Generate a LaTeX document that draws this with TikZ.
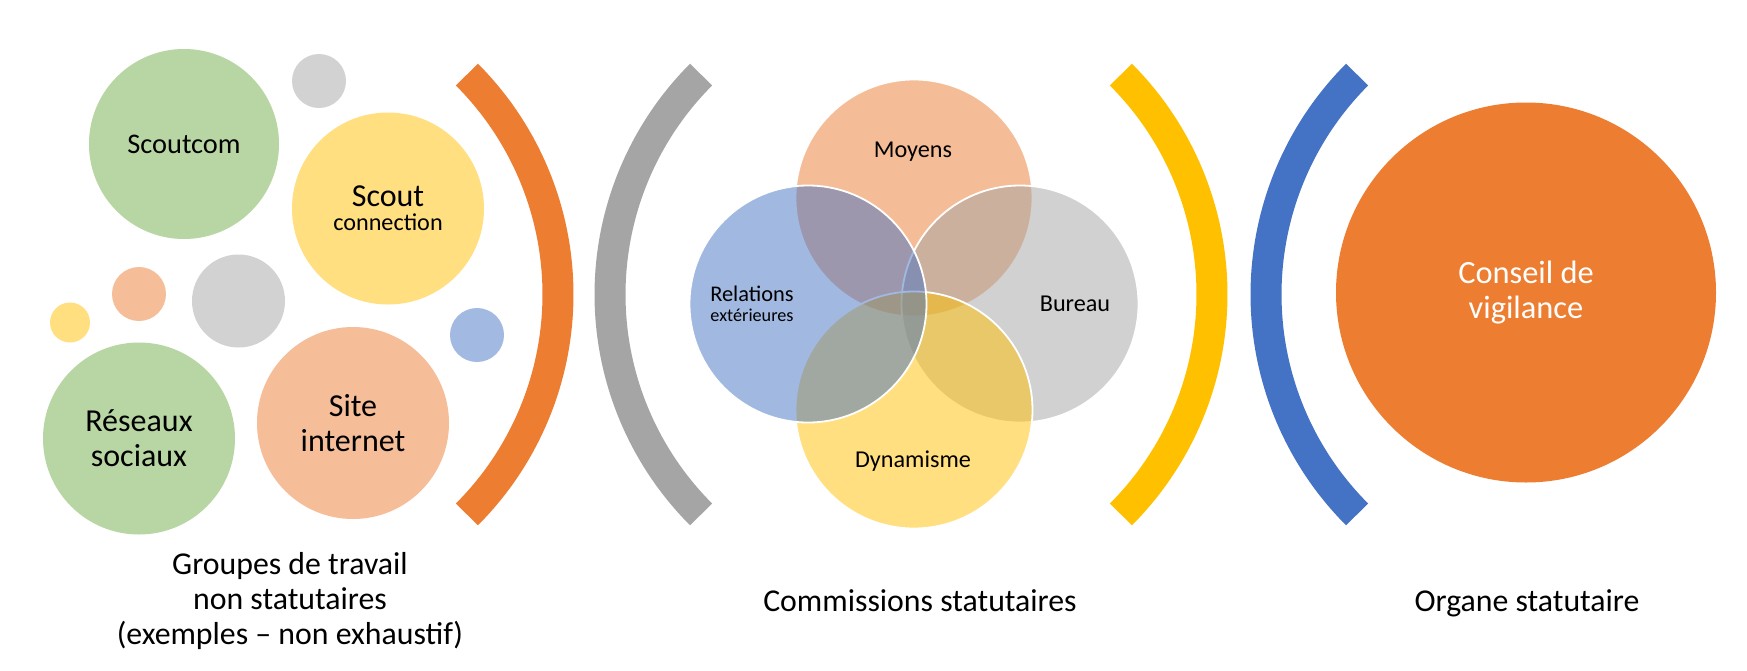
\documentclass[tikz,border=0pt]{standalone}
\usepackage{fontspec}
\setmainfont{Carlito}
\definecolor{orangeC}{HTML}{ED7D31}
\definecolor{greyC}{HTML}{A5A5A5}
\definecolor{yellowC}{HTML}{FFC000}
\definecolor{blueC}{HTML}{4472C4}
\definecolor{lorange}{HTML}{F6BE98}
\definecolor{lgrey}{HTML}{D2D2D2}
\definecolor{lyellow}{HTML}{FFDF80}
\definecolor{lblue}{HTML}{A2B9E1}
\definecolor{lgreen}{HTML}{B8D6A3}
\begin{document}
\begin{tikzpicture}[x=0.5pt,y=-0.5pt,
  bubble/.style={circle,inner sep=0pt,outer sep=0pt,draw=none,align=center,text=black},
  bigtext/.style={font=\fontsize{16}{17.5}\selectfont},
  bandarc/.style={line width=15.5pt},
  venn/.style={circle,inner sep=0pt,outer sep=0pt,minimum size=118.5pt,fill opacity=0.5,draw=white,line width=0.9pt},
  vlabel/.style={anchor=base,inner sep=0pt,text=black,font=\fontsize{12.1}{14}\selectfont},
  caption/.style={inner sep=0pt,align=center,text=black,font=\fontsize{15.9}{17.5}\selectfont},
]
\fill[white] (0,0) rectangle (1747,670);
\path[use as bounding box] (0,0) rectangle (1747,670);

% ---------- left group: working groups ----------
\node[bubble,fill=lgreen,minimum size=95pt,font=\fontsize{14.2}{16}\selectfont] (scoutcom) at (184,144) {Scoutcom};
\node[bubble,fill=lgrey,minimum size=27pt] (dotgreyA) at (319,81) {};
\node[bubble,fill=lyellow,minimum size=96pt] (scoutconn) at (388,208.5)
  {\fontsize{16}{14.2}\selectfont Scout\\\fontsize{12.1}{14.2}\selectfont connection};
\node[bubble,fill=lorange,minimum size=27pt] (dotorange) at (139,294) {};
\node[bubble,fill=lgrey,minimum size=46.5pt] (dotgreyB) at (238.5,301) {};
\node[bubble,fill=lyellow,minimum size=20pt] (dotyellow) at (70,322.5) {};
\node[bubble,fill=lblue,minimum size=27pt] (dotblue) at (477,335) {};
\node[bubble,fill=lgreen,minimum size=96pt,bigtext] (reseaux) at (139,438.5) {Réseaux\\sociaux};
\node[bubble,fill=lorange,minimum size=96pt,bigtext] (site) at (353,423) {Site\\internet};

\draw[bandarc,orangeC] plot[domain=-45:45,samples=90] ({247+311*cos(\x)},{294.5+311*sin(\x)});

\node[caption] (capA) at (290,601) {Groupes de travail\\non statutaires\\(exemples – non exhaustif)};

% ---------- middle group: statutory commissions ----------
\draw[bandarc,greyC] plot[domain=135:225,samples=90] ({921+311*cos(\x)},{294.5+311*sin(\x)});

\node[venn,fill=orangeC] (moyens) at (914,198) {};
\node[venn,fill=greyC] (bureau) at (1020,304) {};
\node[venn,fill=yellowC] (dynamisme) at (914,410) {};
\node[venn,fill=blueC] (relations) at (808,304) {};

\node[vlabel] (lmoyens) at (913,157) {Moyens};
\node[vlabel] (lbureau) at (1075,311.5) {Bureau};
\node[vlabel] (ldyn) at (913,467.5) {Dynamisme};
\node[vlabel,font=\fontsize{11.2}{13}\selectfont] (lrel) at (752,301) {Relations};
\node[vlabel,font=\fontsize{9.1}{10}\selectfont] (lext) at (752,321.5) {extérieures};

\draw[bandarc,yellowC] plot[domain=-45:45,samples=90] ({901+311*cos(\x)},{294.5+311*sin(\x)});

\node[caption,anchor=base] (capB) at (920,611.5) {Commissions statutaires};

% ---------- right group: statutory body ----------
\draw[bandarc,blueC] plot[domain=135:225,samples=90] ({1577+311*cos(\x)},{294.5+311*sin(\x)});

\node[bubble,fill=orangeC,minimum size=190pt,text=white,font=\fontsize{16.2}{17.2}\selectfont] (conseil) at (1526,292.5) {Conseil de\\vigilance};

\node[caption,anchor=base] (capC) at (1527,611.5) {Organe statutaire};
\end{tikzpicture}
\end{document}
